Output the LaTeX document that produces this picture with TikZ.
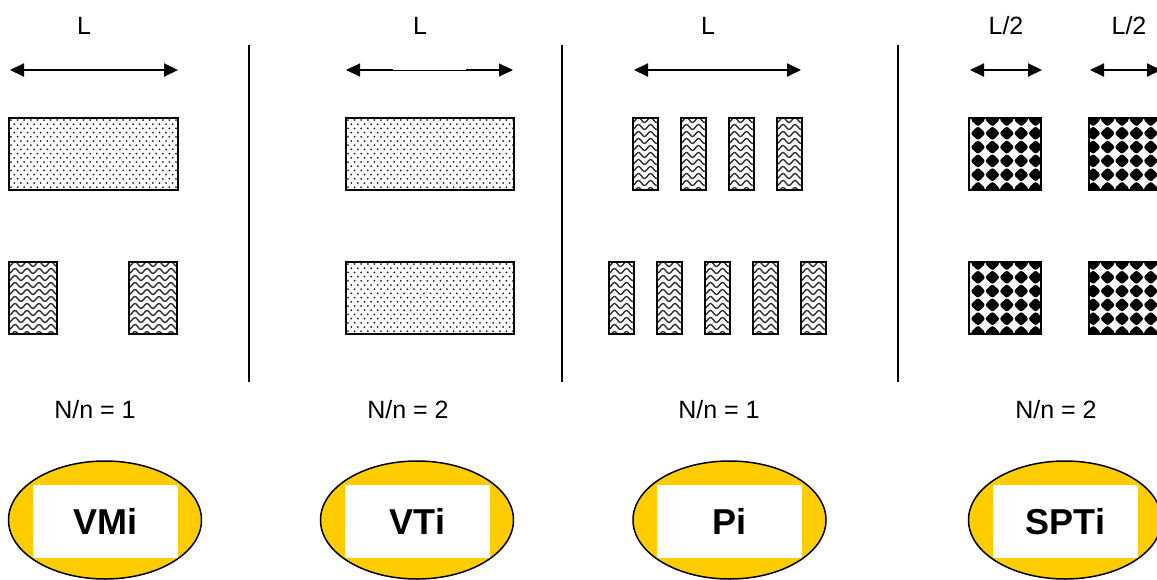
\documentclass[tikz,border=0pt]{standalone}
\usepackage{fontspec}
\setmainfont{Liberation Sans}
\usetikzlibrary{arrows.meta,shapes.geometric}
\definecolor{gold}{HTML}{FFCC00}
\definecolor{dotc}{HTML}{202020}
\definecolor{wavec}{HTML}{303030}
\tikzset{
  dimarrow/.style={line width=2pt,{Triangle[length=14pt,width=13pt]}-{Triangle[length=14pt,width=13pt]}},
  thinarrow/.style={line width=1pt,{Triangle[length=14pt,width=13pt]}-{Triangle[length=14pt,width=13pt]}},
  lbl/.style={font=\fontsize{25}{28}\selectfont,inner sep=0pt},
  sepline/.style={line width=1.6pt},
  boxborder/.style={line width=2pt},
  oval/.style={ellipse,draw,line width=1.5pt,fill=gold,minimum width=193pt,minimum height=118pt,inner sep=0pt},
  namebox/.style={rectangle,fill=white,minimum width=145pt,minimum height=73pt,inner sep=0pt,font=\fontsize{36}{40}\selectfont\bfseries},
  holder/.style={inner sep=0pt,outer sep=0pt,rectangle}
}
% name, cx, cy, w, h
\newcommand{\dotbox}[5]{%
  \node[holder,minimum width=#4pt,minimum height=#5pt] (#1) at (#2,#3) {};
  \begin{scope}
    \clip (#1.north west) rectangle (#1.south east);
    \foreach \j in {0,...,17}{\foreach \i in {0,...,26}{
      \fill[dotc] ({#2-#4/2+2+\i*6.6+mod(\j,2)*3.3},{#3-#5/2+2+\j*4.2}) circle (1.0);
    }}
  \end{scope}
  \draw[boxborder] (#1.north west) rectangle (#1.south east);
}
\newcommand{\wavebox}[5]{%
  \node[holder,minimum width=#4pt,minimum height=#5pt] (#1) at (#2,#3) {};
  \pgfmathsetmacro\wxa{#2-#4/2-3}
  \pgfmathsetmacro\wxb{#2+#4/2+3}
  \pgfmathsetmacro\wya{#3-#5/2+2}
  \begin{scope}
    \clip (#1.north west) rectangle (#1.south east);
    \foreach \j in {0,...,10}{
      \draw[wavec,line width=1.4pt] plot[domain=\wxa:\wxb,samples=50,smooth] (\x,{\wya+\j*7+2.4*sin(30*(\x-\wxa))});
    }
  \end{scope}
  \draw[boxborder] (#1.north west) rectangle (#1.south east);
}
% name, cx, cy, w, h, xoffset
\newcommand{\chkbox}[6]{%
  \node[holder,minimum width=#4pt,minimum height=#5pt] (#1) at (#2,#3) {};
  \begin{scope}
    \clip (#1.north west) rectangle (#1.south east);
    \foreach \j in {0,...,6}{\foreach \i in {-1,...,6}{
      \fill[black,rounded corners=2.5pt] ({#2-#4/2+#6+\i*14.4-7.6},{#3-#5/2+1.5+\j*13.8})
        -- ++(7.6,-7.3) -- ++(7.6,7.3) -- ++(-7.6,7.3) -- cycle;
    }}
  \end{scope}
  \draw[boxborder] (#1.north west) rectangle (#1.south east);
}
\begin{document}
\begin{tikzpicture}[x=1pt,y=-1pt]
\useasboundingbox (0,0) rectangle (1157,579);
\fill[white] (0,0) rectangle (1157,579);

% separators
\coordinate (v1t) at (249,45); \coordinate (v1b) at (249,382);
\coordinate (v2t) at (562,45); \coordinate (v2b) at (562,382);
\coordinate (v3t) at (898,45); \coordinate (v3b) at (898,382);
\draw[sepline] (v1t) -- (v1b);
\draw[sepline] (v2t) -- (v2b);
\draw[sepline] (v3t) -- (v3b);

% top labels
\node[lbl] (L1) at (84,26) {L};
\node[lbl] (L2) at (420,26) {L};
\node[lbl] (L3) at (708,26) {L};
\node[lbl] (L4a) at (1006,26) {L/2};
\node[lbl] (L4b) at (1129,26) {L/2};

% dimension arrows
\coordinate (a1l) at (10,70); \coordinate (a1r) at (178,70);
\draw[dimarrow] (a1l) -- (a1r);
\coordinate (a2l) at (346,70); \coordinate (a2r) at (513,70);
\coordinate (a2p) at (356,70); \coordinate (a2q) at (393,70);
\coordinate (a2s) at (466,70); \coordinate (a2t) at (503,70);
\draw[thinarrow] (a2l) -- (a2r);
\draw[line width=2pt] (a2p) -- (a2q);
\draw[line width=2pt] (a2s) -- (a2t);
\coordinate (a3l) at (634,70); \coordinate (a3r) at (801,70);
\draw[dimarrow] (a3l) -- (a3r);
\coordinate (a4l) at (970,70); \coordinate (a4r) at (1042,70);
\draw[dimarrow] (a4l) -- (a4r);
\coordinate (a5l) at (1090,70); \coordinate (a5r) at (1161,70);
\draw[dimarrow] (a5l) -- (a5r);

% column 1
\dotbox{r1}{93.5}{154}{169}{72}
\wavebox{w1a}{33}{298}{48}{72}
\wavebox{w1b}{153}{298}{48}{72}

% column 2
\dotbox{r2a}{430}{154}{168}{72}
\dotbox{r2b}{430}{298}{168}{72}

% column 3
\wavebox{p1}{645}{154}{25}{72}
\wavebox{p2}{693}{154}{25}{72}
\wavebox{p3}{741}{154}{25}{72}
\wavebox{p4}{789.5}{154}{25}{72}
\wavebox{q1}{621}{298}{25}{72}
\wavebox{q2}{669.5}{298}{25}{72}
\wavebox{q3}{717}{298}{25}{72}
\wavebox{q4}{765.5}{298}{25}{72}
\wavebox{q5}{813.5}{298}{25}{72}

% column 4
\chkbox{c1}{1005}{154}{72}{72}{9}
\chkbox{c2}{1125}{154}{72}{72}{4.2}
\chkbox{c3}{1005}{298}{72}{72}{9}
\chkbox{c4}{1125}{298}{72}{72}{4.2}

% ratios
\node[lbl] (n1) at (95,410) {N/n = 1};
\node[lbl] (n2) at (408,410) {N/n = 2};
\node[lbl] (n3) at (719,410) {N/n = 1};
\node[lbl] (n4) at (1056,410) {N/n = 2};

% ovals
\node[oval] (e1) at (105,520) {};
\node[oval] (e2) at (417,520) {};
\node[oval] (e3) at (729.5,520) {};
\node[oval] (e4) at (1065,520) {};
\node[namebox] (t1) at (105.5,521.5) {VMi};
\node[namebox] (t2) at (417.5,521.5) {VTi};
\node[namebox] (t3) at (729.5,521.5) {Pi};
\node[namebox] (t4) at (1065.5,521.5) {SPTi};
\end{tikzpicture}
\end{document}
